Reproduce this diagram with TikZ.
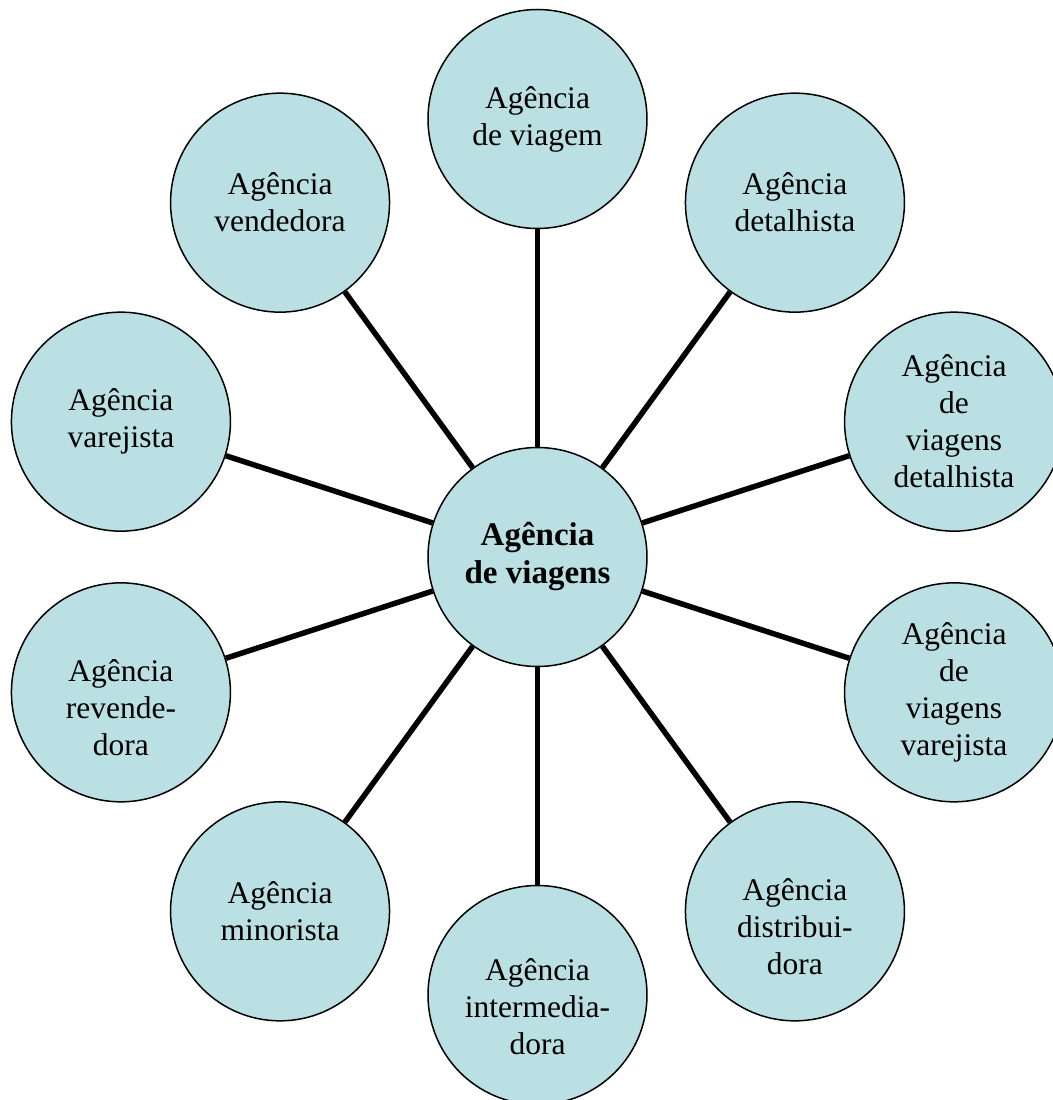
\documentclass[tikz,border=0pt]{standalone}
\usepackage{fontspec}
\setmainfont{Liberation Serif}
\definecolor{bubblefill}{RGB}{187,224,227}
\begin{document}
\begin{tikzpicture}[
  bubble/.style={circle, draw=black, line width=1.5pt, fill=bubblefill,
    minimum size=219pt, inner sep=0pt, align=center,
    font=\fontsize{31.5pt}{37pt}\selectfont},
  hub/.style={bubble, font=\fontsize{33pt}{38pt}\selectfont\bfseries},
  lowtext/.style={align=center, font=\fontsize{31.5pt}{37pt}\selectfont, yshift=-15pt},
  spoke/.style={line width=5.5pt, black}
]
\useasboundingbox (-537.5pt,-543pt) rectangle (514.5pt,557pt);

% hub
\node[hub] (c) at (0,0) {Agência\\de viagens};

% ring of synonyms
\node[bubble] (n1) at (90:438pt) {Agência\\de viagem};
\node[bubble] (n2) at (54:438pt) {Agência\\detalhista};
\node[bubble] (n3) at (18:438pt) {Agência\\de\\viagens\\detalhista};
\node[bubble] (n4) at (-18:438pt) {Agência\\de\\viagens\\varejista};
\node[bubble, label={[lowtext]center:Agência\\distribui-\\dora}] (n5) at (-54:438pt) {};
\node[bubble, label={[lowtext, yshift=3pt]center:Agência\\intermedia-\\dora}] (n6) at (-90:438pt) {};
\node[bubble] (n7) at (-126:438pt) {Agência\\minorista};
\node[bubble, label={[lowtext]center:Agência\\revende-\\dora}] (n8) at (-162:438pt) {};
\node[bubble] (n9) at (162:438pt) {Agência\\varejista};
\node[bubble] (n10) at (126:438pt) {Agência\\vendedora};

% spokes
\foreach \i in {1,...,10} \draw[spoke] (c) -- (n\i);
\end{tikzpicture}
\end{document}
